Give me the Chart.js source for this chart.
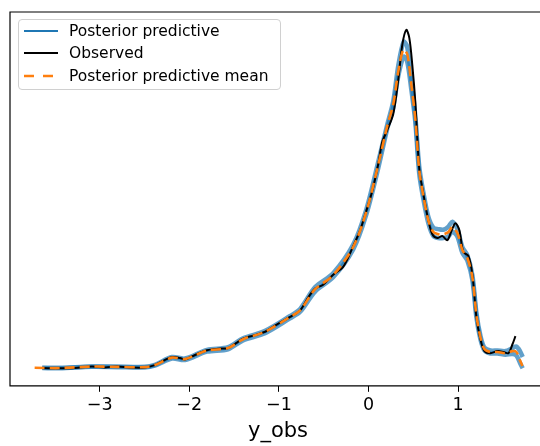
<!DOCTYPE html>
<html>
<head>
<meta charset="utf-8">
<script src="https://cdn.jsdelivr.net/npm/chart.js@4.4.1/dist/chart.umd.min.js"></script>
<style>
    html, body { margin: 0; padding: 0; background: #fff; overflow: hidden; }
    #wrap { position: relative; width: 556px; height: 446px; }
    #legend {
        position: absolute; left: 18px; top: 19px; width: 261px; height: 69px;
        border: 1px solid #d0d0d0; border-radius: 4px; background: rgba(255,255,255,0.8);
        font-family: "DejaVu Sans", sans-serif; font-size: 15.5px; color: #000;
    }
    .row { position: absolute; left: 0; height: 20px; line-height: 20px; white-space: nowrap; }
    .row svg { position: absolute; left: 4px; top: 4px; }
    .row span { position: absolute; left: 50px; top: 0; }
</style>
</head>
<body>
<div id="wrap">
    <canvas id="ppc"></canvas>
    <div id="legend">
        <div class="row" style="top:1px"><svg width="36" height="12"><line x1="1" y1="6" x2="35" y2="6" stroke="#1f77b4" stroke-width="2"/></svg><span>Posterior predictive</span></div>
        <div class="row" style="top:23px"><svg width="36" height="12"><line x1="1" y1="6" x2="35" y2="6" stroke="#000" stroke-width="2"/></svg><span>Observed</span></div>
        <div class="row" style="top:46px"><svg width="36" height="12"><line x1="1" y1="6" x2="35" y2="6" stroke="#ff7f0e" stroke-width="2.6" stroke-dasharray="10 9"/></svg><span>Posterior predictive mean</span></div>
    </div>
</div>
<script>
// x tick positions
const xTicks = [-3, -2, -1, 0, 1];

// observed density
const obsX = [-3.635, -3.446, -3.277, -3.087, -2.942, -2.808, -2.663, -2.496, -2.384, -2.294, -2.193, -2.104, -2.048, -1.936, -1.802, -1.679, -1.567, -1.478, -1.400, -1.288, -1.154, -1.020, -0.875, -0.763, -0.674, -0.596, -0.506, -0.395, -0.283, -0.171, -0.093, -0.026, 0.041, 0.109, 0.153, 0.209, 0.276, 0.332, 0.377, 0.421, 0.455, 0.488, 0.522, 0.566, 0.611, 0.667, 0.712, 0.768, 0.823, 0.879, 0.924, 0.969, 1.013, 1.058, 1.114, 1.159, 1.204, 1.248, 1.293, 1.360, 1.438, 1.505, 1.561, 1.606, 1.639];
const obsY = [0.003, 0.002, 0.003, 0.008, 0.005, 0.008, 0.005, 0.005, 0.013, 0.027, 0.040, 0.037, 0.032, 0.047, 0.063, 0.068, 0.070, 0.087, 0.102, 0.112, 0.125, 0.150, 0.175, 0.197, 0.240, 0.270, 0.283, 0.317, 0.343, 0.413, 0.467, 0.530, 0.597, 0.690, 0.763, 0.803, 0.857, 0.973, 1.090, 1.140, 1.113, 1.023, 0.897, 0.673, 0.590, 0.500, 0.453, 0.440, 0.447, 0.433, 0.463, 0.490, 0.467, 0.393, 0.380, 0.317, 0.173, 0.100, 0.060, 0.053, 0.060, 0.057, 0.053, 0.083, 0.110];

// posterior predictive mean
const meanX = [-3.725, -3.446, -3.087, -2.808, -2.496, -2.384, -2.193, -2.048, -1.802, -1.567, -1.400, -1.154, -0.875, -0.763, -0.596, -0.395, -0.171, -0.026, 0.109, 0.209, 0.276, 0.332, 0.388, 0.433, 0.477, 0.522, 0.566, 0.611, 0.667, 0.723, 0.779, 0.835, 0.891, 0.935, 0.991, 1.047, 1.103, 1.159, 1.204, 1.248, 1.293, 1.360, 1.438, 1.527, 1.606, 1.650, 1.684, 1.717];
const meanY = [0.004, 0.003, 0.008, 0.007, 0.006, 0.013, 0.038, 0.033, 0.062, 0.070, 0.100, 0.125, 0.175, 0.197, 0.268, 0.315, 0.410, 0.527, 0.687, 0.817, 0.890, 1.000, 1.073, 1.057, 0.957, 0.840, 0.667, 0.583, 0.500, 0.460, 0.453, 0.453, 0.460, 0.477, 0.457, 0.400, 0.373, 0.307, 0.180, 0.107, 0.067, 0.057, 0.057, 0.053, 0.060, 0.057, 0.033, 0.010];

// posterior predictive band (drawn as two translucent lines)
const ppX = [-3.640, -3.446, -3.087, -2.808, -2.496, -2.384, -2.193, -2.048, -1.802, -1.567, -1.400, -1.154, -0.875, -0.763, -0.596, -0.395, -0.171, -0.026, 0.109, 0.209, 0.276, 0.332, 0.392, 0.430, 0.477, 0.522, 0.566, 0.611, 0.667, 0.723, 0.779, 0.835, 0.891, 0.935, 0.991, 1.047, 1.103, 1.159, 1.204, 1.248, 1.293, 1.360, 1.438, 1.527, 1.606, 1.650, 1.690, 1.720];
const ppY1 = [0.004, 0.004, 0.008, 0.008, 0.007, 0.014, 0.040, 0.035, 0.064, 0.073, 0.103, 0.128, 0.178, 0.202, 0.275, 0.322, 0.418, 0.535, 0.697, 0.822, 0.900, 1.020, 1.100, 1.085, 0.975, 0.850, 0.680, 0.595, 0.512, 0.475, 0.470, 0.468, 0.478, 0.495, 0.470, 0.410, 0.382, 0.315, 0.188, 0.112, 0.072, 0.062, 0.062, 0.060, 0.070, 0.075, 0.060, 0.040];
const ppY2 = [0.003, 0.002, 0.007, 0.006, 0.005, 0.011, 0.035, 0.030, 0.058, 0.066, 0.096, 0.120, 0.170, 0.192, 0.260, 0.308, 0.402, 0.518, 0.676, 0.808, 0.880, 0.985, 1.050, 1.035, 0.940, 0.830, 0.655, 0.572, 0.490, 0.447, 0.440, 0.440, 0.445, 0.462, 0.445, 0.390, 0.364, 0.298, 0.172, 0.100, 0.062, 0.052, 0.052, 0.048, 0.050, 0.045, 0.020, 0.002];

function pts(xs, ys) {
    return xs.map((x, i) => ({ x: x, y: ys[i] }));
}

// axes frame: left, top and bottom spines (right spine is off the picture)
const framePlugin = {
    id: 'frame',
    afterDraw(chart) {
        const a = chart.chartArea;
        const c = chart.ctx;
        c.save();
        c.strokeStyle = '#000';
        c.lineWidth = 1.2;
        c.beginPath();
        c.moveTo(chart.width, a.top);
        c.lineTo(a.left, a.top);
        c.lineTo(a.left, a.bottom);
        c.lineTo(chart.width, a.bottom);
        c.stroke();
        c.restore();
    }
};

const ctx = document.getElementById('ppc').getContext('2d');
new Chart(ctx, {
    type: 'line',
    data: {
        datasets: [
            {
                label: 'Posterior predictive mean',
                data: pts(meanX, meanY),
                borderColor: '#ff7f0e',
                borderWidth: 2.6,
                borderDash: [10, 5],
                order: 1
            },
            {
                label: 'Observed',
                data: pts(obsX, obsY),
                borderColor: '#000000',
                borderWidth: 2,
                order: 2
            },
            {
                label: 'Posterior predictive',
                data: pts(ppX, ppY1),
                borderColor: 'rgba(31, 119, 180, 0.7)',
                borderWidth: 4.5,
                order: 3
            },
            {
                label: 'Posterior predictive',
                data: pts(ppX, ppY2),
                borderColor: 'rgba(31, 119, 180, 0.7)',
                borderWidth: 4.5,
                order: 4
            }
        ]
    },
    options: {
        responsive: true,
        maintainAspectRatio: false,
        animation: false,
        elements: { point: { radius: 0 }, line: { tension: 0.3, fill: false } },
        layout: { padding: { left: 10, top: 12, right: 10, bottom: 0 } },
        plugins: { legend: { display: false }, tooltip: { enabled: false } },
        scales: {
            x: {
                type: 'linear',
                min: -4.0,
                max: 1.98,
                afterBuildTicks: axis => { axis.ticks = xTicks.map(v => ({ value: v })); },
                ticks: {
                    color: '#000',
                    padding: 3,
                    font: { family: 'DejaVu Sans', size: 17.5 },
                    callback: v => v < 0 ? '\u2212' + Math.abs(v) : String(v)
                },
                grid: { drawOnChartArea: false, drawTicks: true, tickLength: 6, color: '#000', tickWidth: 1 },
                border: { display: false },
                title: {
                    display: true,
                    text: 'y_obs',
                    color: '#000',
                    font: { family: 'DejaVu Sans', size: 21 },
                    padding: { top: 0, bottom: 2 }
                }
            },
            y: {
                display: false,
                min: -0.0567,
                max: 1.2
            }
        }
    },
    plugins: [framePlugin]
});
</script>
</body>
</html>
